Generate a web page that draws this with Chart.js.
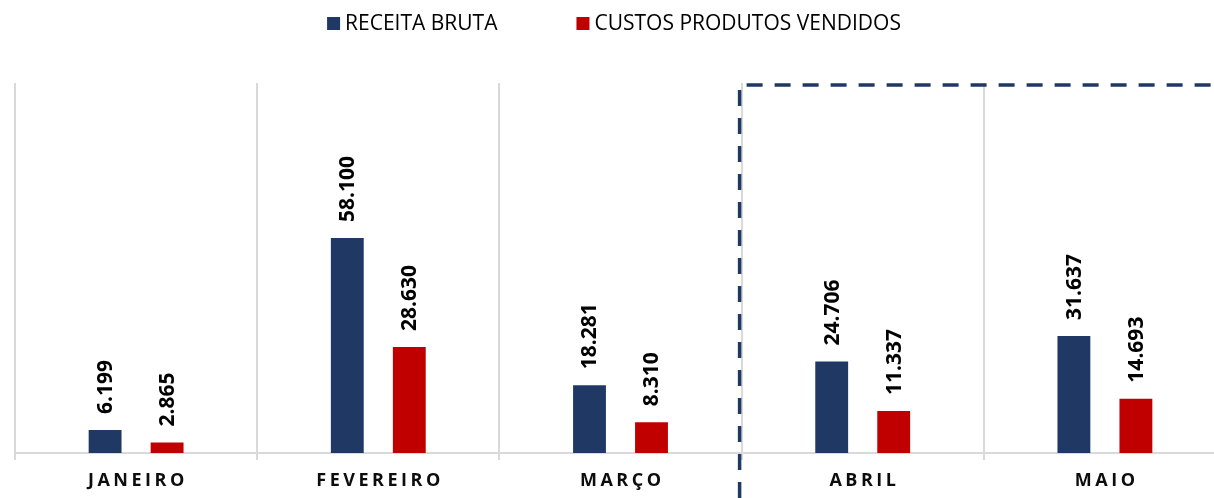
<!DOCTYPE html>
<html>
<head>
<meta charset="utf-8">
<script src="https://cdn.jsdelivr.net/npm/chart.js@4.4.1/dist/chart.umd.min.js"></script>
<style>
  html, body { margin: 0; padding: 0; background: #fff; overflow: hidden; }
  #wrap { position: relative; width: 1228px; height: 498px; }
</style>
</head>
<body>
<div id="wrap"><canvas id="chart"></canvas></div>
<script>
const months         = ['JANEIRO', 'FEVEREIRO', 'MARÇO', 'ABRIL', 'MAIO'];
const receitaBruta   = [6199, 58100, 18281, 24706, 31637];
const custosVendidos = [2865, 28630, 8310, 11337, 14693];
const seriesNames    = ['RECEITA BRUTA', 'CUSTOS PRODUTOS VENDIDOS'];
const seriesColors   = ['#203864', '#C00000'];
const yMax           = 100000;

const FONT = '"Open Sans", "Liberation Sans", sans-serif';

// 58100 -> "58.100"
const fmt = v => String(v).replace(/\B(?=(\d{3})+(?!\d))/g, '.');

const legendTop = {
  id: 'legendTop',
  afterDraw(chart) {
    const ctx = chart.ctx;
    ctx.save();
    ctx.font = `21px ${FONT}`;
    ctx.textBaseline = 'middle';
    const box = 13, gapText = 5, gapItem = 79;
    const items = chart.data.datasets.map(ds => ({
      text: ds.label, color: ds.backgroundColor, w: ctx.measureText(ds.label).width
    }));
    const total = items.reduce((s, it) => s + box + gapText + it.w, 0) + gapItem * (items.length - 1);
    let x = chart.width / 2 - total / 2;
    const y = 24;
    items.forEach(it => {
      ctx.fillStyle = it.color;
      ctx.fillRect(x, y - 7, box, box);
      ctx.fillStyle = '#000';
      ctx.fillText(it.text, x + box + gapText, y);
      x += box + gapText + it.w + gapItem;
    });
    ctx.restore();
  }
};

const valueLabels = {
  id: 'valueLabels',
  afterDatasetsDraw(chart) {
    const ctx = chart.ctx;
    ctx.save();
    ctx.font = `bold 21px ${FONT}`;
    ctx.fillStyle = '#000';
    ctx.textAlign = 'left';
    ctx.textBaseline = 'middle';
    chart.data.datasets.forEach((ds, di) => {
      chart.getDatasetMeta(di).data.forEach((bar, i) => {
        ctx.save();
        ctx.translate(bar.x + 1, bar.y - 16);
        ctx.rotate(-Math.PI / 2);
        ctx.fillText(fmt(ds.data[i]), 0, 0);
        ctx.restore();
      });
    });
    ctx.restore();
  }
};

const monthLabels = {
  id: 'monthLabels',
  afterDraw(chart) {
    const ctx = chart.ctx, xs = chart.scales.x;
    const ls = 3.5;
    ctx.save();
    ctx.font = `bold 18px ${FONT}`;
    ctx.letterSpacing = ls + 'px';
    ctx.fillStyle = '#0d0d0d';
    ctx.textAlign = 'left';
    ctx.textBaseline = 'middle';
    chart.data.labels.forEach((lbl, i) => {
      const w = ctx.measureText(lbl).width - ls;
      ctx.fillText(lbl, xs.getPixelForValue(i) - w / 2, chart.chartArea.bottom + 28);
    });
    ctx.restore();
  }
};

// dashed frame around the last two months
const dashedFrame = {
  id: 'dashedFrame',
  afterDraw(chart) {
    const ctx = chart.ctx, xs = chart.scales.x, area = chart.chartArea;
    const x = (xs.getPixelForValue(2) + xs.getPixelForValue(3)) / 2 - 2;
    const top = area.top + 2;
    ctx.save();
    ctx.strokeStyle = '#203864';
    ctx.lineWidth = 3.5;
    ctx.setLineDash([16, 12]);
    ctx.beginPath();
    ctx.moveTo(x + 7, top);
    ctx.lineTo(chart.width + 20, top);
    ctx.stroke();
    ctx.beginPath();
    ctx.moveTo(x, top + 5);
    ctx.lineTo(x, chart.height + 20);
    ctx.stroke();
    ctx.restore();
  }
};

new Chart(document.getElementById('chart'), {
  type: 'bar',
  data: {
    labels: months,
    datasets: [
      { label: seriesNames[0], data: receitaBruta,   backgroundColor: seriesColors[0] },
      { label: seriesNames[1], data: custosVendidos, backgroundColor: seriesColors[1] }
    ]
  },
  options: {
    responsive: true,
    maintainAspectRatio: false,
    animation: false,
    categoryPercentage: 0.512,
    barPercentage: 0.53,
    layout: { padding: { top: 83, left: 15, right: 2, bottom: 38 } },
    plugins: { legend: { display: false }, tooltip: { enabled: false } },
    scales: {
      x: {
        offset: true,
        grid: { offset: true, color: '#d9d9d9', lineWidth: 2, tickLength: 7, tickColor: '#d9d9d9' },
        border: { display: true, color: '#d9d9d9', width: 2 },
        ticks: { display: false }
      },
      y: {
        display: false,
        min: 0,
        max: yMax
      }
    }
  },
  plugins: [legendTop, valueLabels, monthLabels, dashedFrame]
});
</script>
</body>
</html>
